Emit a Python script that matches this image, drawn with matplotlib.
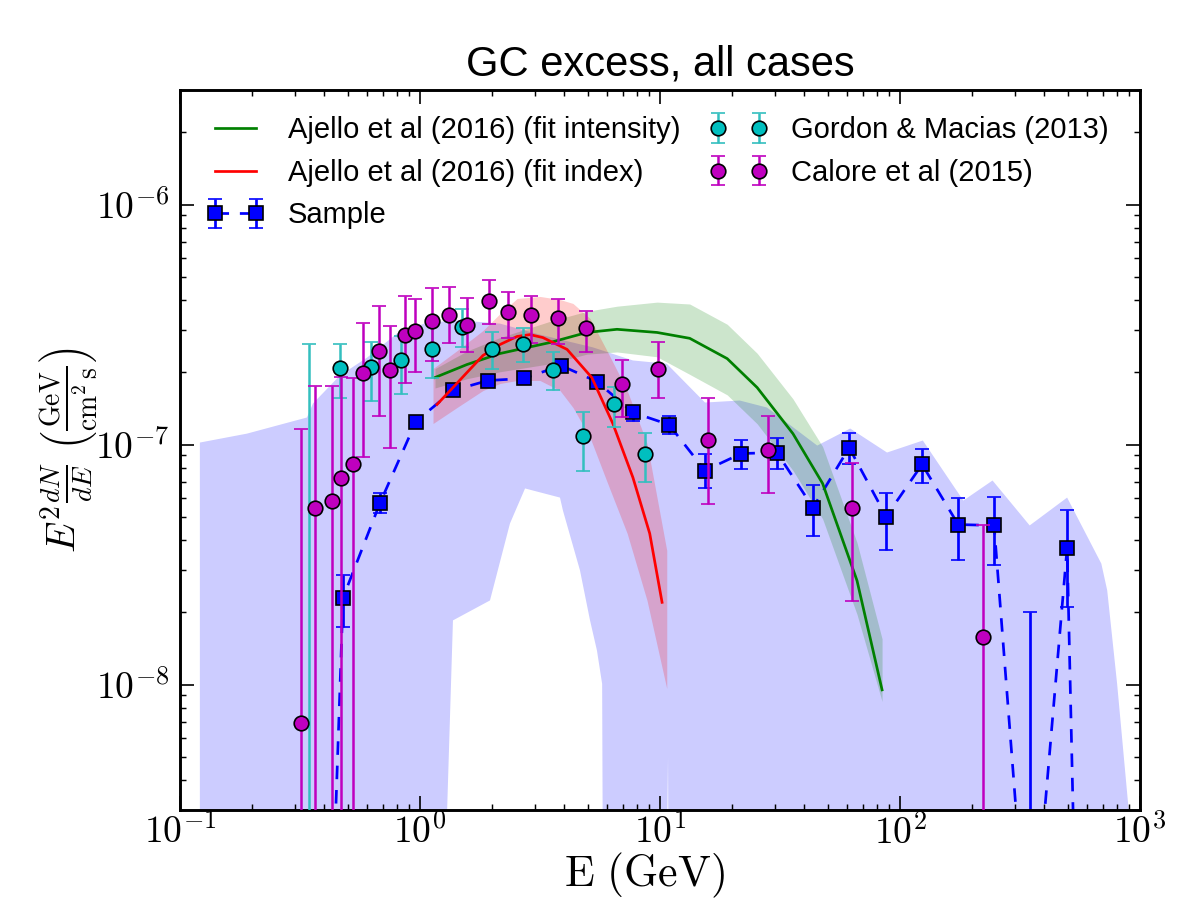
import numpy as np
import matplotlib
matplotlib.use('Agg')
import matplotlib.pyplot as plt
from matplotlib.ticker import FuncFormatter, LogLocator

# ---------------- data ----------------
# Sample (blue squares, dashed)
sample_E = [0.42, 0.478, 0.681, 0.962, 1.372, 1.921, 2.71, 3.87, 5.45, 7.71, 10.9,
            15.4, 21.8, 30.7, 43.4, 61.4, 87.6, 123.6, 174.8, 246.6, 347, 497, 562]
sample_F = [5.3e-10, 2.3e-8, 5.7e-8, 1.247e-7, 1.679e-7, 1.848e-7, 1.884e-7, 2.134e-7,
            1.83e-7, 1.36e-7, 1.21e-7, 7.79e-8, 9.17e-8, 9.26e-8, 5.46e-8, 9.7e-8,
            5.01e-8, 8.26e-8, 4.64e-8, 4.6e-8, 5.5e-10, 3.72e-8, 1.6e-10]
sample_lo = [5.3e-10, 1.73e-8, 5.2e-8, 1.21e-7, 1.63e-7, 1.80e-7, 1.83e-7, 2.07e-7,
             1.78e-7, 1.25e-7, 1.11e-7, 6.56e-8, 7.87e-8, 7.94e-8, 4.14e-8, 8.33e-8,
             3.65e-8, 6.94e-8, 3.29e-8, 3.16e-8, 2.7e-10, 2.11e-8, 1.6e-10]
sample_hi = [5.3e-10, 2.85e-8, 6.3e-8, 1.28e-7, 1.73e-7, 1.90e-7, 1.94e-7, 2.20e-7,
             1.88e-7, 1.45e-7, 1.32e-7, 9.09e-8, 1.04e-7, 1.06e-7, 6.81e-8, 1.12e-7,
             6.31e-8, 9.62e-8, 5.96e-8, 6.07e-8, 2.0e-8, 5.36e-8, 1.6e-10]

# Calore et al (2015)
cal_E = [0.319, 0.365, 0.430, 0.469, 0.526, 0.579, 0.675, 0.75, 0.866, 0.953, 1.122,
         1.32, 1.569, 1.94, 2.33, 2.90, 3.76, 4.92, 6.95, 9.81, 15.85, 28.2, 62.9, 222]
cal_F = [6.9e-9, 5.46e-8, 5.84e-8, 7.22e-8, 8.33e-8, 1.995e-7, 2.46e-7, 2.05e-7,
         2.87e-7, 2.96e-7, 3.26e-7, 3.48e-7, 3.16e-7, 3.98e-7, 3.55e-7, 3.45e-7,
         3.38e-7, 3.07e-7, 1.78e-7, 2.07e-7, 1.04e-7, 9.53e-8, 5.46e-8, 1.57e-8]
cal_hi = [1.166e-7, 1.745e-7, 1.745e-7, 1.92e-7, 1.90e-7, 3.22e-7, 3.76e-7, 3.13e-7,
          4.14e-7, 4.02e-7, 4.51e-7, 4.55e-7, 4.06e-7, 4.83e-7, 4.31e-7, 4.17e-7,
          4.02e-7, 3.6e-7, 2.26e-7, 2.68e-7, 1.555e-7, 1.31e-7, 8.41e-8, 4.6e-8]
cal_lo = [1e-12, 1e-12, 1e-12, 1e-12, 1e-12, 8.91e-8, 1.32e-7, 9.7e-8,
          1.796e-7, 2.01e-7, 2.22e-7, 2.66e-7, 2.42e-7, 3.19e-7, 2.79e-7, 2.66e-7,
          2.63e-7, 2.42e-7, 1.30e-7, 1.555e-7, 5.67e-8, 6.25e-8, 2.22e-8, 1e-12]

# Gordon & Macias (2013)
gm_E = [0.345, 0.464, 0.624, 0.833, 1.122, 1.496, 1.995, 2.69, 3.58, 4.78, 6.43, 8.65]
gm_F = [1e-10, 2.09e-7, 2.11e-7, 2.24e-7, 2.51e-7, 3.1e-7, 2.51e-7, 2.63e-7, 2.05e-7,
        1.08e-7, 1.47e-7, 9.17e-8]
gm_hi = [2.63e-7, 2.63e-7, 2.68e-7, 2.82e-7, 3.3e-7, 3.66e-7, 2.93e-7, 3.07e-7, 2.42e-7,
         1.37e-7, 1.73e-7, 1.12e-7]
gm_lo = [1e-12, 1.555e-7, 1.525e-7, 1.63e-7, 1.9e-7, 2.54e-7, 2.07e-7, 2.2e-7, 1.68e-7,
         7.79e-8, 1.18e-7, 7.0e-8]

# Ajello et al (2016) fit intensity (green)
int_E = [1.155, 1.569, 2.154, 3.48, 4.96, 6.62, 9.72, 13.3, 19.05, 25.4, 35.8, 47.6, 66.2, 84.2]
int_F = [1.902e-7, 2.154e-7, 2.394e-7, 2.66e-7, 2.93e-7, 3.02e-7, 2.93e-7, 2.77e-7,
         2.28e-7, 1.727e-7, 1.11e-7, 6.88e-8, 2.71e-8, 9.5e-9]
int_hi = [2.07e-7, 2.45e-7, 2.79e-7, 3.26e-7, 3.59e-7, 3.77e-7, 3.92e-7, 3.85e-7,
          3.17e-7, 2.40e-7, 1.55e-7, 9.8e-8, 3.9e-8, 1.55e-8]
int_lo = [1.72e-7, 1.88e-7, 2.01e-7, 2.17e-7, 2.38e-7, 2.43e-7, 2.32e-7, 1.96e-7,
          1.61e-7, 1.22e-7, 7.8e-8, 4.9e-8, 1.96e-8, 8.5e-9]

# Ajello et al (2016) fit index (red)
idx_E = [1.177, 1.372, 1.569, 1.83, 2.154, 2.54, 2.87, 3.25, 4.1, 5.2, 6.36, 7.71, 9.06, 10.2]
idx_F = [1.468e-7, 1.727e-7, 1.995e-7, 2.35e-7, 2.61e-7, 2.82e-7, 2.87e-7, 2.79e-7,
         2.49e-7, 1.90e-7, 1.223e-7, 7.29e-8, 4.26e-8, 2.2e-8]
idxband_E = [1.133, 1.426, 1.83, 2.154, 2.54, 3.16, 3.83, 4.34, 5.11, 6.01, 7.30, 8.83, 10.67]
idxband_hi = [2.073e-7, 2.46e-7, 2.985e-7, 3.51e-7, 4.06e-7, 4.14e-7, 4.02e-7, 3.87e-7,
              3.35e-7, 2.46e-7, 1.679e-7, 1.01e-7, 3.62e-8]
idxband_lo = [1.223e-7, 1.426e-7, 1.679e-7, 1.796e-7, 1.848e-7, 1.848e-7, 1.679e-7,
              1.426e-7, 1.07e-7, 7.01e-8, 4.26e-8, 2.24e-8, 9.62e-9]

# Blue background band: upper and lower edges
bandup_E = [0.121, 0.190, 0.338, 0.358, 0.464, 0.601, 0.802, 1.069, 1.468, 2.154, 3.16,
            5.25, 7.71, 10.67, 15.4, 21.5, 27.9, 45.2, 62.0, 88.3, 124.5, 183.6, 243,
            347, 497, 690, 730, 803, 900]
bandup_F = [1.019e-7, 1.11e-7, 1.296e-7, 1.482e-7, 1.94e-7, 2.30e-7, 2.90e-7, 3.22e-7,
            3.29e-7, 3.19e-7, 2.87e-7, 2.54e-7, 2.24e-7, 2.17e-7, 1.496e-7, 1.525e-7,
            1.426e-7, 9.9e-8, 1.166e-7, 9.26e-8, 1.039e-7, 5.84e-8, 7.08e-8, 4.6e-8,
            6.01e-8, 3.19e-8, 2.47e-8, 1.006e-8, 2.9e-9]
bandlo_E = [0.121, 1.28, 1.296, 1.372, 1.957, 2.371, 2.74, 3.83, 3.94, 4.64, 5.11, 5.46,
            5.74, 5.84, 10.3, 10.8, 11.0, 900]
bandlo_F = [1e-10, 1e-10, 2.9e-9, 1.85e-8, 2.24e-8, 4.69e-8, 6.56e-8, 6.01e-8, 5.31e-8,
            2.99e-8, 1.85e-8, 1.387e-8, 1.006e-8, 1e-10, 1e-10, 4.97e-9, 1e-10, 1e-10]

# ---------------- style ----------------
plt.rcParams.update({
    'mathtext.fontset': 'cm',
    'xtick.direction': 'in', 'ytick.direction': 'in',
    'xtick.top': True, 'ytick.right': True,
    'xtick.major.size': 6.5, 'ytick.major.size': 6.5,
    'xtick.minor.size': 3, 'ytick.minor.size': 3,
    'xtick.major.width': 0.8, 'ytick.major.width': 0.8,
    'xtick.minor.width': 0.7, 'ytick.minor.width': 0.7,
    'axes.linewidth': 1.4,
})
plt.rcParams['font.family'] = ['Liberation Sans', 'DejaVu Sans']

fig = plt.figure(figsize=(8, 6), dpi=150)
ax = fig.add_axes([0.15, 0.1, 0.8, 0.8])
ax.set_xscale('log')
ax.set_yscale('log')

# bands
ax.fill(np.r_[bandup_E, bandlo_E[::-1]], np.r_[bandup_F, bandlo_F[::-1]],
        color='b', alpha=0.2, lw=0, zorder=1)
ax.fill_between(int_E, int_lo, int_hi, color='g', alpha=0.2, lw=0, zorder=1.1)
ax.fill_between(idxband_E, idxband_lo, idxband_hi, color='r', alpha=0.2, lw=0, zorder=1.2)

# sample
sF = np.array(sample_F)
eb_s = ax.errorbar(sample_E, sF, yerr=[sF - np.array(sample_lo), np.array(sample_hi) - sF],
                   fmt='s', ls='--', dashes=(5, 4), color='b', ecolor='b', mec='k', mew=0.8,
                   ms=7, lw=1.3, elinewidth=1.3, capsize=3.5, capthick=1.3, zorder=2)

# fit lines
l_int, = ax.plot(int_E, int_F, '-', color='g', lw=1.3, zorder=3)
l_idx, = ax.plot(idx_E, idx_F, '-', color='r', lw=1.3, zorder=3)

gF = np.array(gm_F)
eb_g = ax.errorbar(gm_E, gF, yerr=[gF - np.array(gm_lo), np.array(gm_hi) - gF],
                   fmt='o', color='c', ecolor=(0.2, 0.75, 0.75), mfc=(0, 0.75, 0.75), mec='k',
                   mew=0.8, ms=7, elinewidth=1.2, capsize=3.5, capthick=1.2, zorder=4)
cF = np.array(cal_F)
eb_c = ax.errorbar(cal_E, cF, yerr=[cF - np.array(cal_lo), np.array(cal_hi) - cF],
                   fmt='o', color='m', ecolor=(0.75, 0, 0.75), mfc=(0.75, 0, 0.75), mec='k',
                   mew=0.8, ms=7, elinewidth=1.2, capsize=3.5, capthick=1.2, zorder=4)

ax.set_xlim(0.1, 1000)
ax.set_ylim(3e-9, 3e-6)

fmt = FuncFormatter(lambda v, p: r'$10^{%d}$' % int(round(np.log10(v))))
ax.xaxis.set_major_formatter(fmt)
ax.yaxis.set_major_formatter(fmt)
ax.xaxis.set_major_locator(LogLocator(base=10, numticks=10))
ax.yaxis.set_major_locator(LogLocator(base=10, numticks=10))
ax.tick_params(labelsize=18)
ax.tick_params(axis='x', pad=2)
ax.tick_params(axis='y', pad=5)

ax.set_xlabel(r'$\mathrm{E\ (GeV)}$', fontsize=21)
ax.xaxis.set_label_coords(0.484, -0.057, transform=ax.transAxes)
ax.xaxis.label.set_va('top')
ax.set_ylabel(r'$E^2\frac{dN}{dE}\ \left(\frac{\mathrm{GeV}}{\mathrm{cm^2\,s}}\right)$',
              fontsize=19, labelpad=-1.5)
ax.set_title('GC excess, all cases', fontsize=20, pad=7)

leg = ax.legend([l_int, l_idx, eb_s, eb_g, eb_c],
                ['Ajello et al (2016) (fit intensity)', 'Ajello et al (2016) (fit index)',
                 'Sample', 'Gordon & Macias (2013)', 'Calore et al (2015)'],
                ncol=2, frameon=False, loc='upper left', fontsize=14, numpoints=2,
                handlelength=2.0, handletextpad=0.8, columnspacing=1.0,
                labelspacing=0.5, borderaxespad=0.5)

fig.savefig('out.png', dpi=150, facecolor='white')
